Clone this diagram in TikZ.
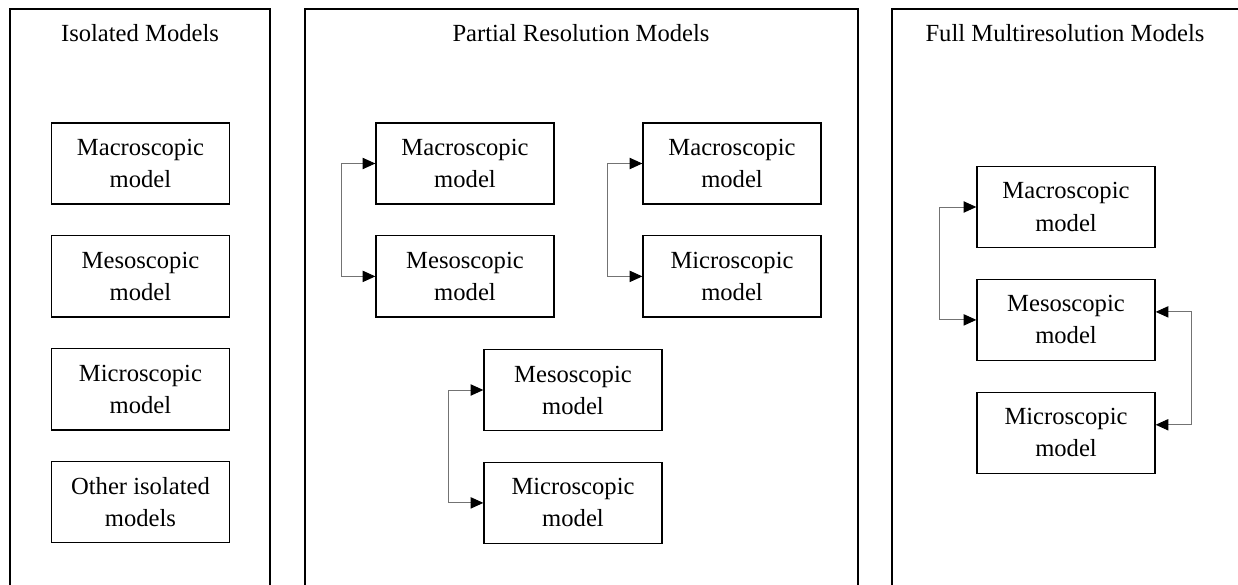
\documentclass[tikz,border=0pt]{standalone}
\usepackage{fontspec}
\setmainfont{Liberation Serif}
\usetikzlibrary{arrows.meta, positioning}
\tikzset{
  panel/.style={draw, line width=0.9pt},
  title/.style={anchor=base, font=\fontsize{17.5}{22.5}\selectfont},
  modelbox/.style={draw, line width=0.9pt, align=center, inner sep=0pt,
    minimum width=4.45cm, minimum height=2.03cm, font=\fontsize{17.5}{22.8}\selectfont},
  link/.style={draw=black!55, line width=0.7pt,
    {Triangle[length=9pt,width=8pt,color=black]}-{Triangle[length=9pt,width=8pt,color=black]}}
}

\begin{document}
\begin{tikzpicture}[x=0.025cm, y=-0.025cm, node distance=0.76cm]
  \useasboundingbox (0,0) rectangle (1238,585);
  \clip (0,0) rectangle (1238,585);
  \draw[panel] (10,9) rectangle (270,600);
  \draw[panel] (305,9) rectangle (858,600);
  \draw[panel] (892,9) rectangle (1250,600);
  \node[title] (isoT) at (140,41) {Isolated Models};
  \node[title] (prT) at (581,41) {Partial Resolution Models};
  \node[title] (fuT) at (1065,41) {Full Multiresolution Models};

  \node[modelbox] (isoMac) at (140.5,163.5) {Macroscopic\\model};
  \node[modelbox, below=of isoMac] (isoMes) {Mesoscopic\\model};
  \node[modelbox, below=of isoMes] (isoMic) {Microscopic\\model};
  \node[modelbox, below=of isoMic] (isoOth) {Other isolated\\models};

  \node[modelbox] (prMacA) at (465,163.5) {Macroscopic\\model};
  \node[modelbox, below=of prMacA] (prMesA) {Mesoscopic\\model};
  \node[modelbox] (prMacB) at (732,163.5) {Macroscopic\\model};
  \node[modelbox, below=of prMacB] (prMicB) {Microscopic\\model};
  \node[modelbox] (prMesC) at (573,390) {Mesoscopic\\model};
  \node[modelbox, below=of prMesC] (prMicC) {Microscopic\\model};
  \draw[link] (prMacA.west) -- ++(-34,0) |- (prMesA.west);
  \draw[link] (prMacB.west) -- ++(-35,0) |- (prMicB.west);
  \draw[link] (prMesC.west) -- ++(-35,0) |- (prMicC.west);

  \node[modelbox] (fuMac) at (1066,207) {Macroscopic\\model};
  \node[modelbox, below=of fuMac] (fuMes) {Mesoscopic\\model};
  \node[modelbox, below=of fuMes] (fuMic) {Microscopic\\model};
  \draw[link] (fuMac.west) -- ++(-37,0) |- (fuMes.west);
  \draw[link] ([yshift=5.7pt]fuMes.east) -- ++(36,0) |- ([yshift=5.7pt]fuMic.east);
\end{tikzpicture}
\end{document}
